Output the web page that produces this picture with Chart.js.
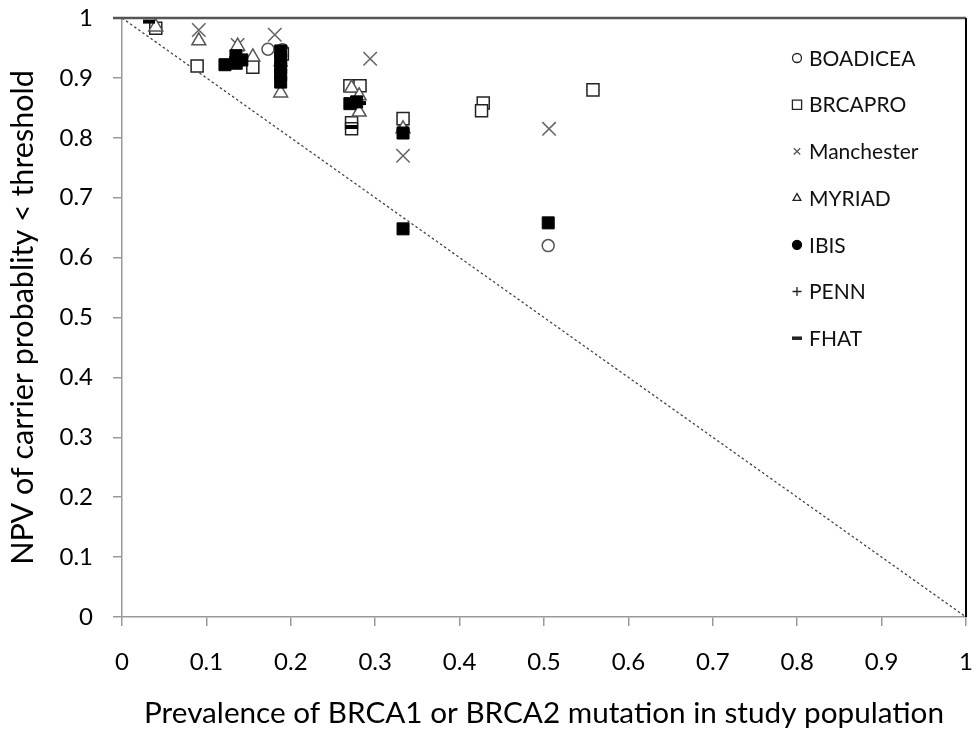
<!DOCTYPE html>
<html>
<head>
<meta charset="utf-8">
<script src="https://cdn.jsdelivr.net/npm/chart.js@4.4.1/dist/chart.umd.min.js"></script>
<style>
  html, body { margin: 0; padding: 0; background: #fff; }
  #wrap { width: 978px; height: 733px; }
</style>
</head>
<body>
<div id="wrap"><canvas id="npvChart" width="978" height="733"></canvas></div>
<script>
// Valeurs (x = prévalence, y = NPV)
const boadiceaX = [0.173, 0.19, 0.333, 0.505];
const boadiceaY = [0.948, 0.947, 0.812, 0.620];

const brcaproX = [0.040, 0.089, 0.135, 0.155, 0.19, 0.270, 0.282, 0.272, 0.272, 0.333, 0.428, 0.426, 0.558];
const brcaproY = [0.983, 0.920, 0.925, 0.918, 0.940, 0.887, 0.887, 0.825, 0.815, 0.832, 0.858, 0.845, 0.880];

const manchesterX = [0.091, 0.137, 0.181, 0.294, 0.333, 0.506];
const manchesterY = [0.980, 0.955, 0.972, 0.932, 0.770, 0.815];

const myriadX = [0.040, 0.091, 0.137, 0.155, 0.188, 0.272, 0.281, 0.281, 0.333];
const myriadY = [0.985, 0.962, 0.953, 0.935, 0.875, 0.883, 0.870, 0.843, 0.815];

const ibisX = [0.122, 0.135, 0.142, 0.135, 0.188, 0.188, 0.188, 0.188, 0.188, 0.270, 0.278, 0.333, 0.333, 0.505];
const ibisY = [0.922, 0.937, 0.930, 0.925, 0.945, 0.930, 0.917, 0.905, 0.893, 0.857, 0.860, 0.808, 0.648, 0.658];

const pennX = [0.135, 0.188];
const pennY = [0.930, 0.920];

const fhatX = [0.032, 0.188, 0.272, 0.282];
const fhatY = [0.994, 0.940, 0.818, 0.858];

// Diagonale de référence
const diagX = [0, 1];
const diagY = [1, 0];

const toPoints = (xs, ys) => xs.map((x, i) => ({ x: x, y: ys[i] }));

const FONT = 'Lato, "Open Sans", sans-serif';

const series = [
    { label: 'BOADICEA', x: boadiceaX, y: boadiceaY, style: 'circle', radius: 6, fill: 'rgba(0,0,0,0)', stroke: '#555', width: 1.5, legendStyle: 'circle' },
    { label: 'BRCAPRO', x: brcaproX, y: brcaproY, style: 'rect', radius: 8.5, fill: '#fff', stroke: '#222', width: 1.5, legendStyle: 'rect' },
    { label: 'Manchester', x: manchesterX, y: manchesterY, style: 'crossRot', radius: 9.5, fill: '#666', stroke: '#666', width: 1.6, legendStyle: 'crossRot' },
    { label: 'MYRIAD', x: myriadX, y: myriadY, style: 'triangle', radius: 8, fill: '#fff', stroke: '#555', width: 1.5, legendStyle: 'triangle' },
    { label: 'IBIS', x: ibisX, y: ibisY, style: 'rect', radius: 8.5, fill: '#000', stroke: '#000', width: 1, legendStyle: 'circle' },
    { label: 'PENN', x: pennX, y: pennY, style: 'cross', radius: 7, fill: '#000', stroke: '#000', width: 1.5, legendStyle: 'cross' },
    { label: 'FHAT', x: fhatX, y: fhatY, style: 'line', radius: 6, fill: '#000', stroke: '#000', width: 4, legendStyle: 'line' }
];

const datasets = series.map((s, i) => ({
    label: s.label,
    data: toPoints(s.x, s.y),
    pointStyle: s.style,
    pointRadius: s.radius,
    pointBackgroundColor: s.fill,
    pointBorderColor: s.stroke,
    pointBorderWidth: s.width,
    showLine: false,
    order: series.length - i
}));

datasets.push({
    label: 'diag',
    data: toPoints(diagX, diagY),
    type: 'line',
    borderColor: '#444',
    borderWidth: 1.3,
    borderDash: [2.5, 2.5],
    pointRadius: 0,
    fill: false,
    order: 20
});

// Légende dessinée dans la zone du graphique + cadre haut/droite
const overlayPlugin = {
    id: 'overlay',
    afterDraw(chart) {
        const ctx = chart.ctx;
        const area = chart.chartArea;
        ctx.save();
        ctx.setLineDash([]);
        // cadre
        ctx.strokeStyle = '#555';
        ctx.lineWidth = 2.5;
        ctx.beginPath();
        ctx.moveTo(area.left - 9, area.top);
        ctx.lineTo(area.right, area.top);
        ctx.stroke();
        ctx.strokeStyle = '#000';
        ctx.lineWidth = 2;
        ctx.beginPath();
        ctx.moveTo(area.right, area.top);
        ctx.lineTo(area.right, area.bottom);
        ctx.stroke();

        // légende
        const lx = 797, ly0 = 58, step = 46.7;
        ctx.font = '21px ' + FONT;
        ctx.textBaseline = 'middle';
        ctx.textAlign = 'left';
        series.forEach((s, i) => {
            const y = ly0 + i * step;
            const isLine = s.legendStyle === 'line';
            const opts = {
                pointStyle: s.legendStyle,
                radius: isLine ? 5 : (s.legendStyle === 'rect' ? 6.5 : 4.5),
                borderWidth: isLine ? 3.5 : 1.3
            };
            ctx.fillStyle = s.label === 'IBIS' ? '#000' : (s.legendStyle === 'crossRot' ? '#555' : '#fff');
            ctx.strokeStyle = s.label === 'IBIS' ? '#000' : (s.legendStyle === 'crossRot' ? '#555' : '#222');
            ctx.lineWidth = opts.borderWidth;
            Chart.helpers.drawPoint(ctx, opts, lx, y);
            ctx.fillStyle = '#111';
            ctx.fillText(s.label, 809, y + 1);
        });
        ctx.restore();
    }
};

const tickFormat = v => Number(v.toFixed(1)).toString();

new Chart(document.getElementById('npvChart').getContext('2d'), {
    type: 'scatter',
    data: { datasets: datasets },
    options: {
        responsive: false,
        animation: false,
        layout: { padding: { top: 18, right: 12, left: 0, bottom: 0 } },
        plugins: {
            legend: { display: false },
            tooltip: { enabled: false }
        },
        scales: {
            x: {
                type: 'linear',
                min: 0,
                max: 1,
                afterFit: scale => {
                    scale.height = 116;
                    scale.paddingLeft = 0;
                    scale.paddingRight = 0;
                },
                ticks: {
                    stepSize: 0.1,
                    padding: 22,
                    color: '#000',
                    font: { family: FONT, size: 24 },
                    maxRotation: 0,
                    callback: tickFormat
                },
                grid: { drawOnChartArea: false, drawTicks: true, tickLength: 9, color: '#999', lineWidth: 1.5 },
                border: { color: '#999', width: 1.5 },
                title: {
                    display: true,
                    text: 'Prevalence of BRCA1 or BRCA2 mutation in study population',
                    color: '#000',
                    font: { family: FONT, size: 29.7 },
                    padding: { top: 0, bottom: 2 }
                }
            },
            y: {
                type: 'linear',
                min: 0,
                max: 1,
                afterFit: scale => {
                    scale.width = 122;
                    scale.paddingTop = 0;
                    scale.paddingBottom = 0;
                },
                ticks: {
                    stepSize: 0.1,
                    padding: 20,
                    color: '#000',
                    font: { family: FONT, size: 24 },
                    callback: tickFormat
                },
                grid: { drawOnChartArea: false, drawTicks: true, tickLength: 9, color: '#999', lineWidth: 1.5 },
                border: { color: '#999', width: 1.5 },
                title: {
                    display: true,
                    text: 'NPV of carrier probablity < threshold',
                    color: '#000',
                    font: { family: FONT, size: 30.5 },
                    padding: { top: 5, bottom: 0 }
                }
            }
        }
    },
    plugins: [overlayPlugin]
});
</script>
</body>
</html>
